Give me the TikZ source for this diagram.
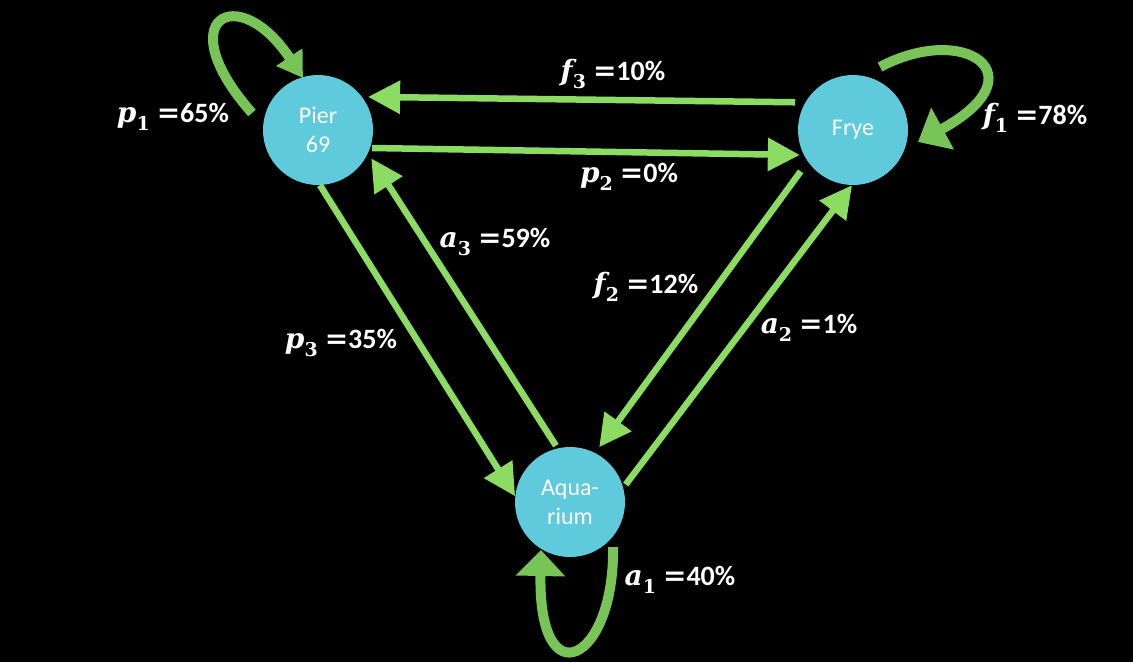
\documentclass[tikz,border=0pt]{standalone}
\usepackage{fontspec}
\setmainfont{Carlito}
\newfontfamily\mserif{DejaVu Serif}
\usetikzlibrary{arrows.meta,calc}
\definecolor{bub}{RGB}{95,202,220}
\definecolor{edg}{RGB}{140,220,100}
\definecolor{lop}{RGB}{120,196,86}
\newcommand\mlab[3]{{\mserif\bfseries\itshape #1}\raisebox{-0.3em}{\mserif\bfseries\fontsize{19}{19}\selectfont #2}\hspace{0.25em}{\mserif\bfseries =}\textbf{#3}}
\begin{document}
\begin{tikzpicture}[x=1pt,y=-1pt,
 state/.style={circle,fill=bub,minimum size=110pt,inner sep=0pt,text=white,font=\fontsize{24}{29}\selectfont,align=center},
 edge/.style={draw=edg,line width=6.5pt,-{Triangle[length=32pt,width=32pt]}},
 loopa/.style={draw=lop,line width=10pt},
 lbl/.style={text=white,font=\fontsize{28}{30}\selectfont,inner sep=0pt}]
\fill[black] (0,0) rectangle (1133,662);
\useasboundingbox (0,0) rectangle (1133,662);
\node[state] (pier) at (318,130) {Pier\\69};
\node[state] (frye) at (853,130) {Frye};
\node[state] (aq) at (570,502) {Aqua-\\rium};
% straight edges
\draw[edge, shorten <=10pt, shorten >=6pt] (frye.150) -- (pier.37);
\draw[edge, shorten <=2pt, shorten >=4pt] (pier.-19) -- (frye.207);
\draw[edge, shorten <=12pt, shorten >=7pt] (frye.215) -- (aq.63);
\draw[edge, shorten <=4pt] (aq.15) -- (frye.269);
\draw[edge] (pier.272) -- (aq.174);
\draw[edge, shorten <=3pt, shorten >=6pt] (aq.103) -- (pier.-25);
% loops
\draw[loopa,-{Triangle[length=25pt,width=30pt]}] ($(pier)+(-66,-17)$) .. controls ($(pier)+(-150,-112)$) and ($(pier)+(-80,-150)$) .. ($(pier)+(-15,-52)$);
\draw[loopa,-{Triangle[length=28pt,width=46pt]}] ($(frye)+(27,-63)$) .. controls ($(frye)+(112,-108)$) and ($(frye)+(188,-55)$) .. ($(frye)+(65,12)$);
\draw[loopa,-{Triangle[length=26pt,width=48pt]}] ($(aq)+(43,45)$) .. controls ($(aq)+(45,160)$) and ($(aq)+(-32,198)$) .. ($(aq)+(-29,48)$);
% labels
\node[lbl] (lp1) at (173,117) {\mlab{p}{1}{65\%}};
\node[lbl] (lf3) at (613,74) {\mlab{f}{3}{10\%}};
\node[lbl] (lf1) at (1035,118) {\mlab{f}{1}{78\%}};
\node[lbl] (lp2) at (629,177) {\mlab{p}{2}{0\%}};
\node[lbl] (la3) at (495,242) {\mlab{a}{3}{59\%}};
\node[lbl] (lf2) at (646,287) {\mlab{f}{2}{12\%}};
\node[lbl] (la2) at (809,328) {\mlab{a}{2}{1\%}};
\node[lbl] (lp3) at (341,343) {\mlab{p}{3}{35\%}};
\node[lbl] (la1) at (680,580) {\mlab{a}{1}{40\%}};
\end{tikzpicture}
\end{document}
